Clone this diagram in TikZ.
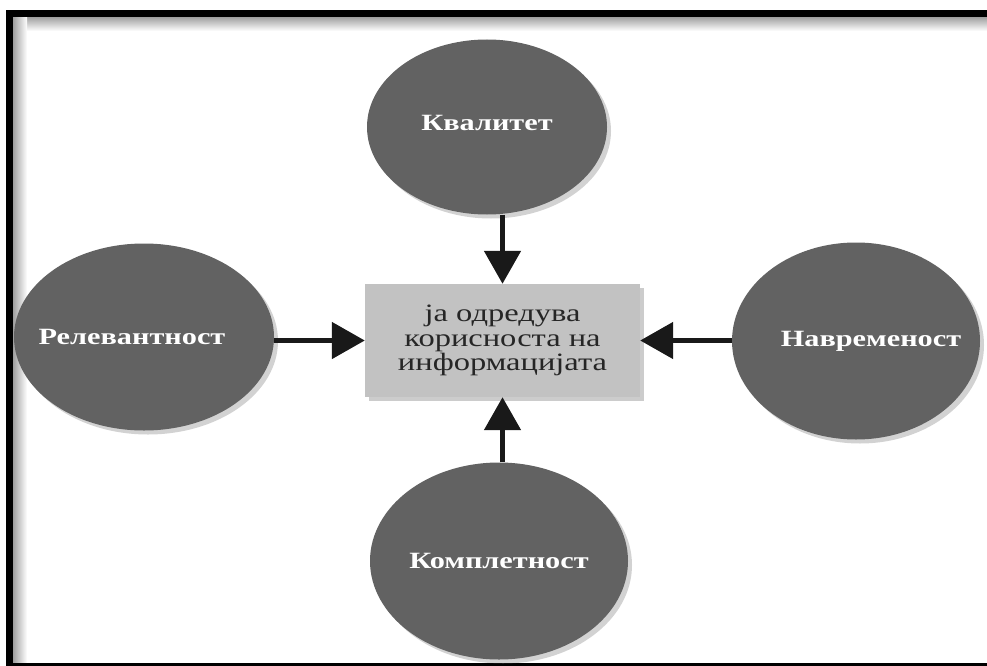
\documentclass[tikz,border=0pt]{standalone}
\usepackage{fontspec}
\setmainfont{Liberation Serif}
\newfontfamily\labfont{Liberation Serif}[FakeStretch=1.3]
\usetikzlibrary{arrows.meta,shadows,shapes.geometric,calc}
\definecolor{ellgray}{HTML}{626262}
\definecolor{boxgray}{HTML}{C2C2C2}
\begin{document}
\begin{tikzpicture}[x=1pt,y=-1pt,
  ell/.style={ellipse, fill=ellgray, inner sep=0pt, text=white,
    font=\labfont\bfseries\fontsize{23.3}{26}\selectfont,
    drop shadow={shadow xshift=4pt, shadow yshift=-4pt, opacity=0.35, fill=gray}},
  centerbox/.style={rectangle, fill=boxgray, inner sep=0pt, align=center,
    minimum width=275pt, minimum height=113pt, text=black!85,
    font=\labfont\fontsize{25}{24.5}\selectfont,
    drop shadow={shadow xshift=4pt, shadow yshift=-4pt, opacity=0.4, fill=gray}},
  arr/.style={line width=5pt, draw=black!90, -{Triangle[width=36pt,length=33pt]}}]
\useasboundingbox (0,0) rectangle (987,666);
\fill[white] (0,0) rectangle (987,666);
% frame
\shade[top color=gray!75, bottom color=white] (13,17) rectangle (987,31);
\shade[left color=gray!75, right color=white] (13,17) rectangle (27,663);
\fill[black] (6,10) rectangle (13,666);
\fill[black] (6,10) rectangle (987,17);
\fill[black] (13,663) rectangle (987,666);
% nodes
\node[centerbox] (rect) at (502.5,340.5) {ја одредува\\корисноста на\\информацијата};
\node[ell, minimum width=240pt, minimum height=175pt] (kv) at (487,127) {\raisebox{9pt}{Квалитет}};
\node[ell, minimum width=260pt, minimum height=187pt] (rel) at (144,337) {\makebox[0pt]{Релевантност\hspace*{24pt}}};
\node[ell, minimum width=248pt, minimum height=197pt] (nav) at (856,341) {\makebox[0pt]{\hspace*{30pt}Навременост}};
\node[ell, minimum width=258pt, minimum height=197pt] (kom) at (499,561) {Комплетност};
% arrows
\draw[arr] (kv.south -| rect.north) -- (rect.north);
\draw[arr] (rel.east |- rect.west) -- (rect.west);
\draw[arr] (nav.west |- rect.east) -- (rect.east);
\draw[arr] (kom.north -| rect.south) -- (rect.south);
\end{tikzpicture}
\end{document}
